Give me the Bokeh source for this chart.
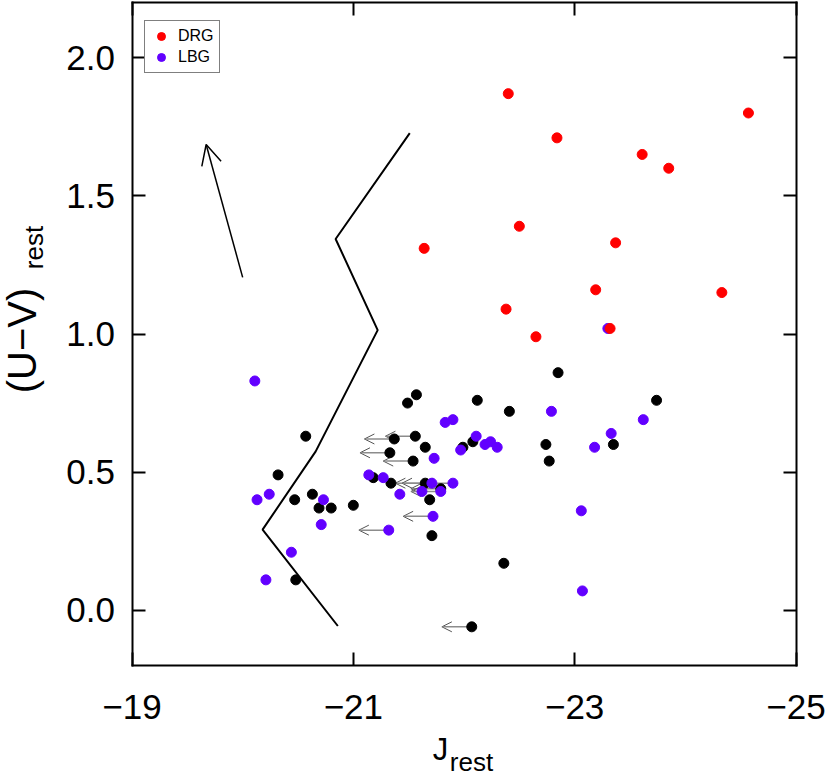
import math
from bokeh.plotting import figure
from bokeh.models import (Range1d, FixedTicker, LinearAxis, Arrow, OpenHead,
                          ColumnDataSource, Label, Legend, LegendItem)
from bokeh.embed import file_html
from bokeh.resources import INLINE

# ---------------- data ----------------
x_ticks = [-19, -21, -23, -25]
x_tick_labels = ["\u221219", "\u221221", "\u221223", "\u221225"]
y_ticks = [0.0, 0.5, 1.0, 1.5, 2.0]
y_tick_labels = ["0.0", "0.5", "1.0", "1.5", "2.0"]
x_limits = [-19, -25]
y_limits = [-0.2, 2.2]

drg_j = [-22.40, -22.84, -23.61, -23.85, -24.57, -22.50, -21.64, -23.37, -23.19,
         -24.33, -22.38, -22.65, -23.32]
drg_uv = [1.87, 1.71, 1.65, 1.60, 1.80, 1.39, 1.31, 1.33, 1.16, 1.15, 1.09, 0.99, 1.02]

lbg_j = [-20.11, -20.13, -20.24, -20.73, -20.71, -20.44, -20.21, -21.14, -21.27, -21.42,
         -21.32, -21.72, -21.62, -21.79, -21.71, -21.90, -21.73, -21.83, -21.90, -22.11,
         -21.97, -22.19, -22.24, -22.30, -22.79, -23.62, -23.33, -23.18, -23.06, -23.07,
         -23.30]
lbg_uv = [0.83, 0.40, 0.42, 0.40, 0.31, 0.21, 0.11, 0.49, 0.48, 0.42,
          0.29, 0.34, 0.43, 0.43, 0.46, 0.46, 0.55, 0.68, 0.69, 0.63,
          0.58, 0.60, 0.61, 0.59, 0.72, 0.69, 0.64, 0.59, 0.36, 0.07,
          1.02]
lbg_limit = [0, 0, 0, 0, 0, 0, 0, 0, 0, 0,
             1, 1, 0, 1, 1, 1, 0, 0, 0, 0,
             0, 0, 0, 0, 0, 0, 0, 0, 0, 0,
             0]

oth_j = [-20.57, -20.32, -20.47, -20.63, -20.69, -20.80, -21.00, -20.48, -21.49, -21.57,
         -22.12, -21.37, -21.56, -21.33, -21.54, -21.65, -21.18, -21.34, -21.65, -21.79,
         -21.69, -21.71, -21.99, -22.08, -22.07, -22.41, -22.85, -23.74, -22.74, -22.77,
         -23.35, -22.36]
oth_uv = [0.63, 0.49, 0.40, 0.42, 0.37, 0.37, 0.38, 0.11, 0.75, 0.78,
          0.76, 0.62, 0.63, 0.57, 0.54, 0.59, 0.48, 0.46, 0.46, 0.44,
          0.40, 0.27, 0.59, 0.61, -0.06, 0.72, 0.86, 0.76, 0.60, 0.54,
          0.60, 0.17]
oth_limit = [0, 0, 0, 0, 0, 0, 0, 0, 0, 0,
             0, 1, 1, 1, 1, 0, 0, 0, 1, 1,
             0, 0, 0, 0, 1, 0, 0, 0, 0, 0,
             0, 0]
limit_len = 0.27

track_j = [-21.51, -20.84, -21.22, -20.66, -20.18, -20.86]
track_uv = [1.727, 1.344, 1.014, 0.575, 0.292, -0.057]

vector_j = [-20.00, -19.67]
vector_uv = [1.205, 1.686]

RED = "#ff0000"
PURPLE = "#6200ff"
FONT = "Liberation Sans"

# ---------------- layout (canvas pixels) ----------------
W, H = 830, 775
BOX_L, BOX_R, BOX_T, BOX_B = 131.5, 795.5, 2.0, 665.0

x0, x1 = x_limits
y0, y1 = y_limits
x_start = x0 + (0 - BOX_L) / (BOX_R - BOX_L) * (x1 - x0)
x_end = x0 + (W - BOX_L) / (BOX_R - BOX_L) * (x1 - x0)
y_end = y1 + (BOX_T - 0) / (BOX_B - BOX_T) * (y1 - y0)
y_start = y1 - (H - BOX_T) / (BOX_B - BOX_T) * (y1 - y0)

p = figure(width=W, height=H, output_backend="svg", toolbar_location=None,
           x_range=Range1d(x_start, x_end), y_range=Range1d(y_start, y_end),
           min_border=0)
p.min_border_left = p.min_border_right = p.min_border_top = p.min_border_bottom = 0
p.grid.visible = False
p.outline_line_color = None
p.background_fill_color = "white"
p.border_fill_color = "white"


def style_axis(ax, ticks, overrides, loc, bounds, show_labels=True):
    ax.fixed_location = loc
    ax.bounds = (min(bounds), max(bounds))
    ax.ticker = FixedTicker(ticks=ticks)
    ax.major_label_overrides = overrides
    ax.minor_tick_line_color = None
    ax.major_tick_in = 13
    ax.major_tick_out = 0
    ax.major_tick_line_width = 2
    ax.major_tick_line_color = "black"
    ax.axis_line_color = "black"
    ax.axis_line_width = 2
    ax.axis_line_cap = "square"
    ax.major_label_text_font = FONT
    ax.major_label_text_font_size = "35px"
    if show_labels:
        ax.major_label_text_color = "black"
    else:
        ax.major_label_text_color = None


x_over = {t: l for t, l in zip(x_ticks, x_tick_labels)}
y_over = {t: l for t, l in zip(y_ticks, y_tick_labels)}

style_axis(p.xaxis[0], x_ticks, x_over, y0, x_limits)
p.xaxis[0].major_label_standoff = 29
style_axis(p.yaxis[0], y_ticks, y_over, x0, y_limits)
p.yaxis[0].major_label_standoff = 17

ax_top = LinearAxis()
style_axis(ax_top, x_ticks, x_over, y1, x_limits, show_labels=False)
p.add_layout(ax_top, "above")
ax_right = LinearAxis()
style_axis(ax_right, y_ticks, y_over, x1, y_limits, show_labels=False)
p.add_layout(ax_right, "right")

# track line
p.line(track_j, track_uv, line_color="black", line_width=2)

# reddening vector
p.add_layout(Arrow(end=OpenHead(size=20, line_width=1.5, line_color="black"),
                   x_start=vector_j[0], y_start=vector_uv[0],
                   x_end=vector_j[1], y_end=vector_uv[1],
                   line_width=1.5, line_color="black"))

# upper-limit arrows
lim_x = [x for x, f in zip(oth_j, oth_limit) if f] + [x for x, f in zip(lbg_j, lbg_limit) if f]
lim_y = [y for y, f in zip(oth_uv, oth_limit) if f] + [y for y, f in zip(lbg_uv, lbg_limit) if f]
lim_src = ColumnDataSource(dict(x=lim_x, y=lim_y, xe=[x + limit_len for x in lim_x]))
p.add_layout(Arrow(end=OpenHead(size=10, line_width=1, line_color="#555555"),
                   source=lim_src, x_start="x", y_start="y", x_end="xe", y_end="y",
                   line_color="#8c8c8c", line_width=1.5, level="underlay"))

# points
p.scatter(oth_j, oth_uv, size=10, color="black")
r_lbg = p.scatter(lbg_j, lbg_uv, size=10, color=PURPLE)
r_drg = p.scatter(drg_j, drg_uv, size=10, color=RED)

LEG_H = 51
legend = Legend(items=[LegendItem(label="DRG", renderers=[r_drg]),
                       LegendItem(label="LBG", renderers=[r_lbg])],
                location=(144, H - 22 - LEG_H), padding=5, spacing=1, margin=0,
                glyph_width=22, glyph_height=20, label_height=20, label_standoff=6,
                label_text_font=FONT, label_text_font_size="16px",
                label_text_color="black",
                border_line_color="black", border_line_width=1.5,
                background_fill_alpha=1)
p.add_layout(legend)


def add_text(txt, cx, cy, size, angle=0.0):
    # cx, cy: canvas pixels from the top-left corner
    p.add_layout(Label(x=cx, y=H - cy, x_units="screen", y_units="screen", text=txt,
                       angle=angle, text_align="center", text_baseline="middle",
                       text_font=FONT, text_font_size=size, text_color="black"))


add_text("(U\u2212V)", 21, 340, "40px", math.pi / 2)
add_text("rest", 33, 247, "26px", math.pi / 2)
add_text("J", 440, 749, "31px")
add_text("rest", 471, 761, "26px")

open("out.html", "w").write(file_html(p, INLINE))
